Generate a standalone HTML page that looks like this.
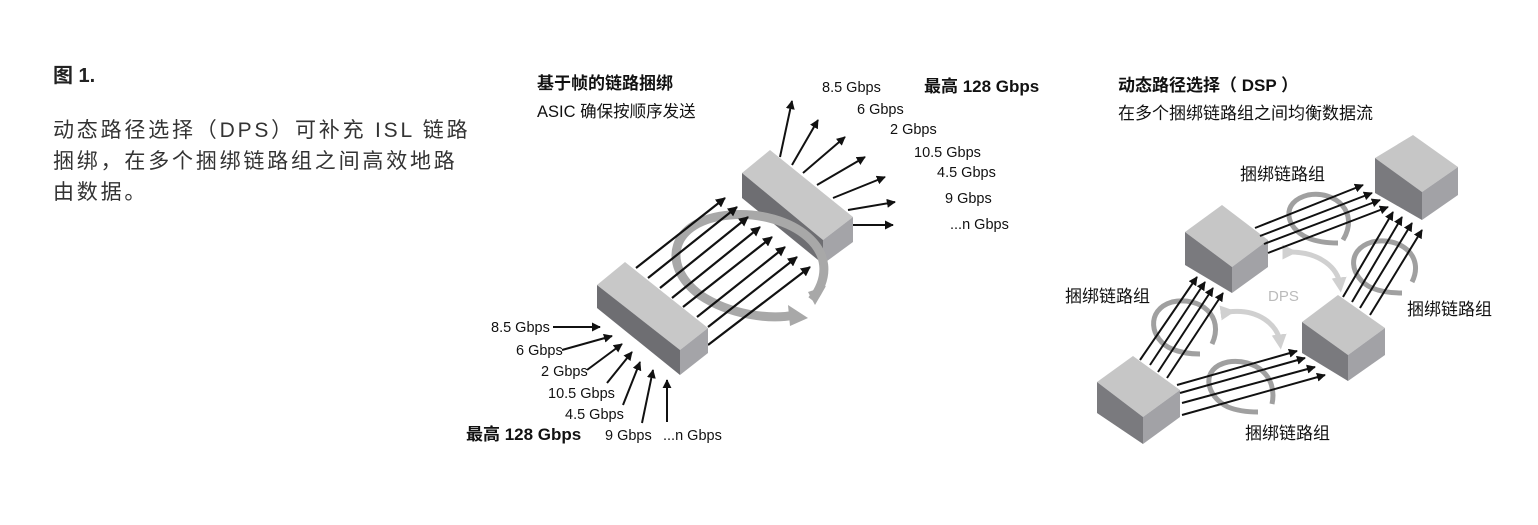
<!DOCTYPE html>
<html><head><meta charset="utf-8"><style>
body{margin:0;background:#fff;}
svg{display:block;font-family:"Liberation Sans","Noto Sans CJK SC",sans-serif;}
</style></head><body>
<svg width="1538" height="525" viewBox="0 0 1538 525" xmlns="http://www.w3.org/2000/svg">
<defs>
<marker id="ah" viewBox="0 0 10 10" refX="9" refY="5" markerWidth="4.5" markerHeight="4.5" orient="auto"><path d="M0,0 L10,5 L0,10 z" fill="#111"/></marker>
<marker id="lh" viewBox="0 0 10 10" refX="5" refY="5" markerWidth="3" markerHeight="3" orient="auto"><path d="M0,0 L10,5 L0,10 z" fill="#d0d0d0"/></marker>
</defs>

<!-- left text -->
<text x="53" y="82" font-size="20" font-weight="bold" fill="#222">图 1.</text>
<g font-size="21" fill="#333" letter-spacing="2.8">
<text x="53" y="137">动态路径选择（DPS）可补充 ISL 链路</text>
<text x="53" y="168">捆绑，在多个捆绑链路组之间高效地路</text>
<text x="53" y="199">由数据。</text>
</g>

<!-- middle titles -->
<text x="537" y="89" font-size="17" font-weight="bold" fill="#111">基于帧的链路捆绑</text>
<text x="537" y="117" font-size="16.5" fill="#111">ASIC 确保按顺序发送</text>
<text x="924" y="92" font-size="17" font-weight="bold" fill="#111">最高 128 Gbps</text>
<text x="466" y="440" font-size="17" font-weight="bold" fill="#111">最高 128 Gbps</text>

<!-- right box -->
<polygon points="742,173 770,150 853,217 823,240" fill="#c8c8c8"/>
<polygon points="742,173 823,240 823,264 742,198" fill="#6e6e72"/>
<polygon points="823,240 853,217 853,242 823,264" fill="#a4a4a8"/>

<!-- gray loop -->
<path d="M812,300 C850,250 790,210 730,215 C670,220 660,265 700,295 C730,315 770,320 795,315" fill="none" stroke="#a8a8a8" stroke-width="9"/>
<polygon points="788,305 808,318 790,326" fill="#a8a8a8"/>
<polygon points="808,292 826,286 815,305" fill="#a8a8a8"/>

<!-- bundle arrows -->
<g stroke="#111" stroke-width="2.2" marker-end="url(#ah)">
<line x1="636" y1="268" x2="725" y2="198"/>
<line x1="648" y1="278" x2="737" y2="207"/>
<line x1="660" y1="288" x2="748" y2="217"/>
<line x1="672" y1="298" x2="760" y2="227"/>
<line x1="683" y1="307" x2="772" y2="237"/>
<line x1="697" y1="317" x2="785" y2="247"/>
<line x1="708" y1="327" x2="797" y2="257"/>
<line x1="708" y1="345" x2="810" y2="267"/>
</g>

<!-- left box -->
<polygon points="597,285 625,262 708,328 680,350" fill="#c8c8c8"/>
<polygon points="597,285 680,350 680,375 597,308" fill="#6e6e72"/>
<polygon points="680,350 708,328 708,353 680,375" fill="#a4a4a8"/>

<!-- output arrows -->
<g stroke="#111" stroke-width="2" marker-end="url(#ah)">
<line x1="780" y1="157" x2="792" y2="101"/>
<line x1="792" y1="165" x2="818" y2="120"/>
<line x1="803" y1="173" x2="845" y2="137"/>
<line x1="817" y1="185" x2="865" y2="157"/>
<line x1="833" y1="198" x2="885" y2="177"/>
<line x1="848" y1="210" x2="895" y2="202"/>
<line x1="853" y1="225" x2="893" y2="225"/>
<line x1="553" y1="327" x2="600" y2="327"/>
<line x1="562" y1="350" x2="612" y2="336"/>
<line x1="587" y1="370" x2="622" y2="344"/>
<line x1="607" y1="383" x2="632" y2="352"/>
<line x1="623" y1="405" x2="640" y2="362"/>
<line x1="642" y1="423" x2="653" y2="370"/>
<line x1="667" y1="422" x2="667" y2="380"/>
</g>
<g font-size="14.5" fill="#111">
<text x="822" y="92">8.5 Gbps</text>
<text x="857" y="114">6 Gbps</text>
<text x="890" y="134">2 Gbps</text>
<text x="914" y="157">10.5 Gbps</text>
<text x="937" y="177">4.5 Gbps</text>
<text x="945" y="203">9 Gbps</text>
<text x="950" y="229">...n Gbps</text>
<text x="491" y="332">8.5 Gbps</text>
<text x="516" y="355">6 Gbps</text>
<text x="541" y="376">2 Gbps</text>
<text x="548" y="398">10.5 Gbps</text>
<text x="565" y="419">4.5 Gbps</text>
<text x="605" y="440">9 Gbps</text>
<text x="663" y="440">...n Gbps</text>
</g>

<!-- right diagram titles -->
<text x="1118" y="91" font-size="17" font-weight="bold" fill="#111">动态路径选择（ DSP ）</text>
<text x="1118" y="119" font-size="17" fill="#111">在多个捆绑链路组之间均衡数据流</text>

<!-- DPS gray arrows -->
<path d="M1290,252 C1320,252 1338,268 1340,285" fill="none" stroke="#d0d0d0" stroke-width="5" marker-end="url(#lh)" marker-start="url(#lh)"/>
<path d="M1228,312 C1258,308 1278,325 1280,342" fill="none" stroke="#d0d0d0" stroke-width="5" marker-end="url(#lh)" marker-start="url(#lh)"/>
<text x="1268" y="301" font-size="15" fill="#bbb">DPS</text>

<!-- cubes -->
<polygon points="1185,232 1222,205 1268,240 1232,267" fill="#c6c6c6"/>
<polygon points="1185,232 1232,267 1232,293 1185,265" fill="#7a7a7e"/>
<polygon points="1232,267 1268,240 1268,267 1232,293" fill="#a2a2a6"/>
<polygon points="1375,158 1413,135 1458,167 1422,192" fill="#c6c6c6"/>
<polygon points="1375,158 1422,192 1422,220 1375,193" fill="#7a7a7e"/>
<polygon points="1422,192 1458,167 1458,195 1422,220" fill="#a2a2a6"/>
<polygon points="1302,322 1338,295 1385,328 1348,355" fill="#c6c6c6"/>
<polygon points="1302,322 1348,355 1348,381 1302,353" fill="#7a7a7e"/>
<polygon points="1348,355 1385,328 1385,355 1348,381" fill="#a2a2a6"/>
<polygon points="1097,382 1133,356 1180,390 1143,417" fill="#c6c6c6"/>
<polygon points="1097,382 1143,417 1143,444 1097,413" fill="#7a7a7e"/>
<polygon points="1143,417 1180,390 1180,417 1143,444" fill="#a2a2a6"/>

<!-- loops -->
<g fill="none" stroke="#a0a0a0" stroke-width="5">
<path d="M1343,240 C1360,212 1335,190 1308,195 C1280,202 1285,228 1308,238 C1320,243 1332,243 1338,243"/>
<path d="M1412,282 C1425,256 1400,236 1372,242 C1345,250 1350,278 1372,288 C1384,293 1396,293 1402,293"/>
<path d="M1212,344 C1225,316 1200,296 1172,302 C1145,310 1150,340 1172,349 C1184,354 1196,354 1200,354"/>
<path d="M1272,404 C1278,376 1255,358 1228,362 C1200,368 1205,396 1228,407 C1240,412 1252,412 1258,412"/>
</g>

<g stroke="#111" stroke-width="2" marker-end="url(#ah)">
<line x1="1255" y1="228" x2="1363" y2="185"/>
<line x1="1260" y1="236" x2="1372" y2="193"/>
<line x1="1264" y1="244" x2="1380" y2="200"/>
<line x1="1268" y1="253" x2="1388" y2="207"/>
<line x1="1343" y1="297" x2="1393" y2="212"/>
<line x1="1352" y1="302" x2="1402" y2="217"/>
<line x1="1360" y1="308" x2="1412" y2="223"/>
<line x1="1370" y1="315" x2="1422" y2="230"/>
<line x1="1140" y1="360" x2="1197" y2="277"/>
<line x1="1150" y1="365" x2="1205" y2="282"/>
<line x1="1158" y1="372" x2="1213" y2="288"/>
<line x1="1167" y1="378" x2="1223" y2="293"/>
<line x1="1177" y1="385" x2="1297" y2="351"/>
<line x1="1180" y1="393" x2="1305" y2="358"/>
<line x1="1182" y1="403" x2="1315" y2="367"/>
<line x1="1182" y1="415" x2="1325" y2="375"/>
</g>

<g font-size="17" fill="#111">
<text x="1240" y="180">捆绑链路组</text>
<text x="1065" y="302">捆绑链路组</text>
<text x="1407" y="315">捆绑链路组</text>
<text x="1245" y="439">捆绑链路组</text>
</g>
</svg>
</body></html>
